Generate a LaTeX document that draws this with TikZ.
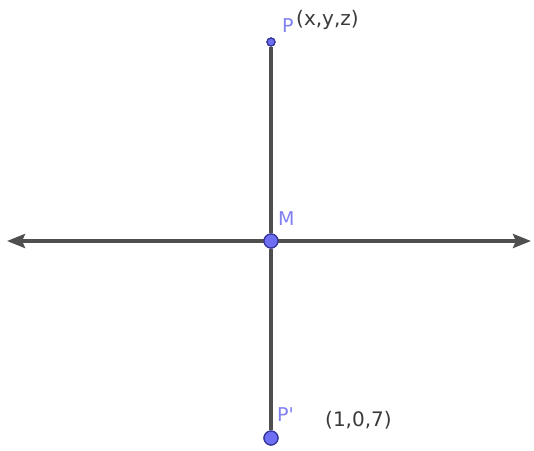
\documentclass[tikz,border=0pt]{standalone}
\usepackage{fontspec}
\setmainfont{DejaVu Sans}
\newfontfamily\plainlbl[Ligatures=ResetAll]{DejaVu Sans}
\usetikzlibrary{arrows.meta}
\definecolor{linegray}{HTML}{4F4F4F}
\definecolor{ptfill}{HTML}{6E6EF2}
\definecolor{ptdraw}{HTML}{34349A}
\definecolor{lblblue}{HTML}{8080F0}
\definecolor{txtgray}{HTML}{3A3A3A}
\begin{document}
\begin{tikzpicture}[x=1pt,y=-1pt,
  axis/.style={draw=linegray,line width=3.6pt},
  bigpt/.style={circle,fill=ptfill,draw=ptdraw,line width=1.2pt,minimum size=14pt,inner sep=0pt},
  smallpt/.style={circle,fill=ptfill,draw=ptdraw,line width=1.2pt,minimum size=8pt,inner sep=0pt},
  ptlabel/.style={text=lblblue,font=\plainlbl\fontsize{19}{19}\selectfont,inner sep=0pt,anchor=base west},
  coordlabel/.style={text=txtgray,font=\fontsize{20}{20}\selectfont,inner sep=0pt,anchor=base west}]
\useasboundingbox (0,0) rectangle (534,450);
\coordinate (L) at (7,241);
\coordinate (R) at (531,241);
\node[smallpt] (P) at (271,42) {};
\node[bigpt] (M) at (271,241) {};
\node[bigpt] (Pp) at (271,438) {};
\draw[axis] (P) -- (M);
\draw[axis] (M) -- (Pp);
\draw[axis,{Stealth[length=18pt,width=14pt,inset=3pt]}-{Stealth[length=18pt,width=14pt,inset=3pt]}] (L) -- (R);
\node[bigpt] at (M) {};
\node[bigpt] at (Pp) {};
\node[smallpt] at (P) {};
\node[ptlabel] (Plbl) at (282,32) {P};
\node[coordlabel] (Pc) at (296,25) {(x,y,z)};
\node[ptlabel] (Mlbl) at (278,225) {M};
\node[ptlabel] (Pplbl) at (277,421) {P'};
\node[coordlabel] (Ppc) at (325,426) {(1,0,7)};
\end{tikzpicture}
\end{document}
